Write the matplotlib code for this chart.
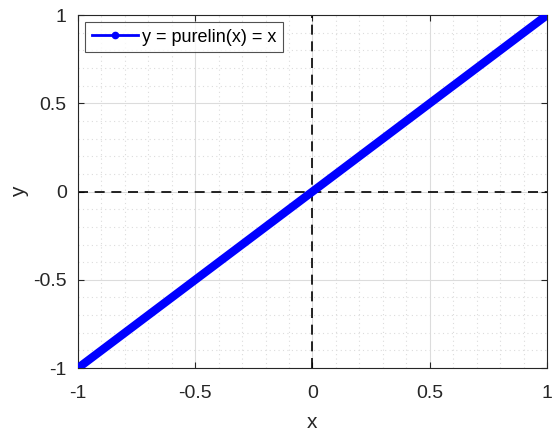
import numpy as np
import matplotlib.pyplot as plt
from matplotlib.lines import Line2D
from matplotlib.ticker import MultipleLocator

plt.rcParams['font.family'] = ['Liberation Sans', 'DejaVu Sans']

# data: purelin transfer function
x = [-1, -0.5, 0, 0.5, 1]
y = [-1, -0.5, 0, 0.5, 1]
major_ticks = [-1, -0.5, 0, 0.5, 1]
tick_labels = ['-1', '-0.5', '0', '0.5', '1']

fig = plt.figure(figsize=(5.57, 4.32), dpi=100)
ax = fig.add_axes([0.140, 0.148, 0.842, 0.817])

ax.plot(x, y, color='#0000ff', lw=6, solid_capstyle='butt', zorder=3)
ax.axhline(0, color='black', ls=(0, (6, 4)), lw=1.2, zorder=2)
ax.axvline(0, color='black', ls=(0, (6, 4)), lw=1.2, zorder=2)

ax.set_xlim(-1, 1)
ax.set_ylim(-1, 1)
ax.set_xticks(major_ticks)
ax.set_xticklabels(tick_labels)
ax.set_yticks(major_ticks)
ax.set_yticklabels(tick_labels)
ax.xaxis.set_minor_locator(MultipleLocator(0.1))
ax.yaxis.set_minor_locator(MultipleLocator(0.1))

ax.grid(which='major', color='#dcdcdc', lw=0.8)
ax.grid(which='minor', color='#dcdcdc', lw=0.8, ls=(0, (1, 3)))
ax.set_axisbelow(True)

ax.tick_params(which='both', direction='in', top=True, right=True,
               labelsize=14, colors='#262626')
ax.tick_params(axis='x', pad=12)
ax.tick_params(axis='y', pad=8)
ax.tick_params(which='minor', length=0)
ax.tick_params(which='major', length=4)
for s in ax.spines.values():
    s.set_color('#262626')
    s.set_linewidth(0.8)

ax.set_xlabel('x', fontsize=15, color='#262626', labelpad=8)
ax.set_ylabel('y', fontsize=15, color='#262626', labelpad=3)

handle = Line2D([], [], color='#0000ff', lw=2, marker='.', markersize=9)
leg = ax.legend([handle], ['y = purelin(x) = x'], loc='upper left',
                fontsize=13, fancybox=False, edgecolor='#262626',
                handlelength=2.6, handletextpad=0.2, borderpad=0.35,
                borderaxespad=0.4)
leg.get_frame().set_linewidth(0.8)

fig.savefig('out.png', dpi=100)
